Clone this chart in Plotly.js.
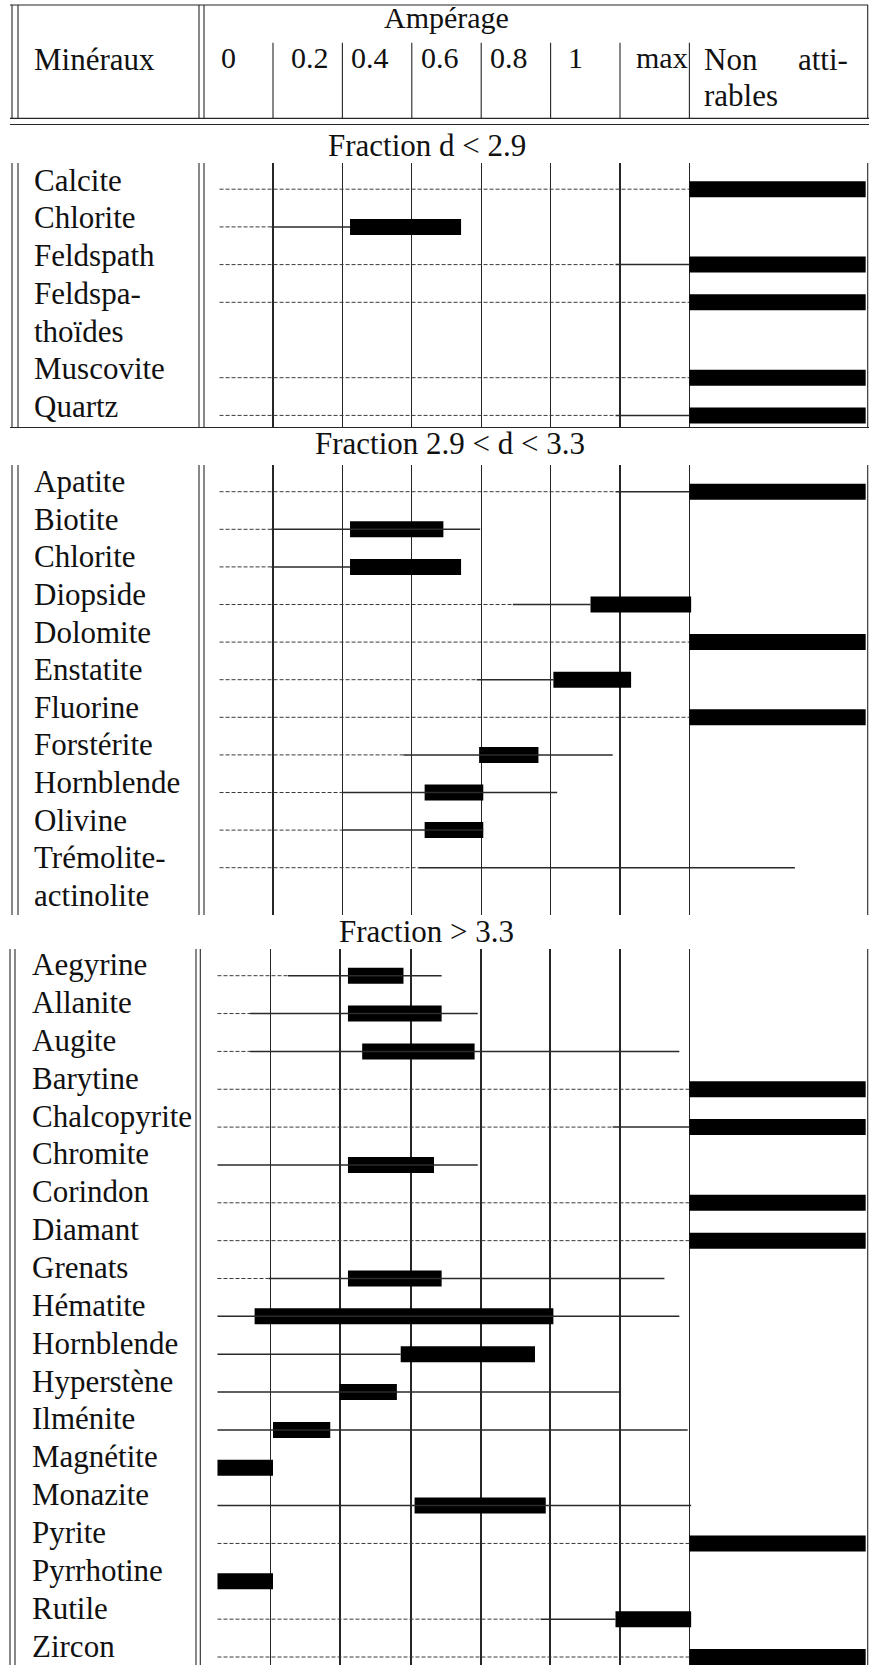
<!DOCTYPE html>
<html>
<head>
<meta charset="utf-8">
<script src="https://cdn.plot.ly/plotly-3.0.1.min.js"></script>
<style>html,body{margin:0;padding:0;background:#fff;}#chart{width:869px;height:1665px;}</style>
</head>
<body>
<div id="chart"></div>
<script>
// ---------------- DATA ----------------
const headerTitle = "Ampérage";
const headerMinerals = "Minéraux";
const colLabels = ["0", "0.2", "0.4", "0.6", "0.8", "1", "max"];
const nonAttr = ["Non", "atti-", "rables"];
const fractionTitles = ["Fraction d < 2.9", "Fraction 2.9 < d < 3.3", "Fraction > 3.3"];

// Section 1 : d < 2.9   (amperage units; dashed = possible, line = observed range, bar = main)
const sec1Names = ["Calcite", "Chlorite", "Feldspath", "Feldspa-", "thoïdes", "Muscovite", "Quartz"];
const sec1DashFrom = [0.046, 0.046, 0.046, 0.046, null, 0.046, 0.046];
const sec1DashTo   = [1.400, 0.195, 1.187, 1.400, null, 1.400, 1.187];
const sec1LineFrom = [null, 0.195, 1.187, null, null, null, 1.187];
const sec1LineTo   = [null, 0.422, 1.400, null, null, null, 1.400];
const sec1BarFrom  = [1.400, 0.422, 1.400, 1.400, null, 1.400, 1.400];
const sec1BarTo    = [1.908, 0.742, 1.908, 1.908, null, 1.908, 1.908];

// Section 2 : 2.9 < d < 3.3
const sec2Names = ["Apatite", "Biotite", "Chlorite", "Diopside", "Dolomite", "Enstatite", "Fluorine", "Forstérite", "Hornblende", "Olivine", "Trémolite-", "actinolite"];
const sec2DashFrom = [0.046, 0.046, 0.046, 0.046, 0.046, 0.046, 0.046, 0.046, 0.046, 0.046, 0.046, null];
const sec2DashTo   = [1.187, 0.195, 0.195, 0.891, 1.400, 0.787, 1.400, 0.576, 0.398, 0.398, 0.619, null];
const sec2LineFrom = [1.187, 0.195, 0.195, 0.891, null, 0.787, null, 0.576, 0.398, 0.398, 0.619, null];
const sec2LineTo   = [1.400, 0.797, 0.422, 1.115, null, 1.008, null, 1.179, 1.019, 0.806, 1.704, null];
const sec2BarFrom  = [1.400, 0.422, 0.422, 1.115, 1.400, 1.008, 1.400, 0.794, 0.637, 0.637, null, null];
const sec2BarTo    = [1.908, 0.691, 0.742, 1.405, 1.908, 1.232, 1.908, 0.965, 0.806, 0.806, null, null];

// Section 3 : d > 3.3
const sec3Names = ["Aegyrine", "Allanite", "Augite", "Barytine", "Chalcopyrite", "Chromite", "Corindon", "Diamant", "Grenats", "Hématite", "Hornblende", "Hyperstène", "Ilménite", "Magnétite", "Monazite", "Pyrite", "Pyrrhotine", "Rutile", "Zircon"];
const sec3DashFrom = [0.040, 0.040, 0.040, 0.040, 0.040, null, 0.040, 0.040, 0.040, null, null, null, null, null, null, 0.040, null, 0.040, 0.040];
const sec3DashTo   = [0.243, 0.134, 0.134, 1.400, 1.179, null, 1.400, 1.400, 0.187, null, null, null, null, null, null, 1.400, null, 0.971, 1.400];
const sec3LineFrom = [0.243, 0.134, 0.134, null, 1.179, 0.040, null, null, 0.187, 0.040, 0.040, 0.040, 0.040, null, 0.040, null, null, 0.971, null];
const sec3LineTo   = [0.686, 0.790, 1.371, null, 1.400, 0.790, null, null, 1.328, 1.371, 0.568, 1.200, 1.395, null, 1.405, null, null, 1.187, null];
const sec3BarFrom  = [0.416, 0.416, 0.457, 1.400, 1.400, 0.416, 1.400, 1.400, 0.416, 0.147, 0.568, 0.392, 0.200, 0.040, 0.608, 1.400, 0.040, 1.187, 1.400];
const sec3BarTo    = [0.576, 0.686, 0.781, 1.908, 1.908, 0.664, 1.908, 1.908, 0.686, 1.008, 0.955, 0.557, 0.365, 0.200, 0.986, 1.908, 0.200, 1.405, 1.908];

// ---------------- LAYOUT HELPERS ----------------
const W = 869, H = 1665;
const X0 = 203.6, SCALE = 347;           // pixel of amperage 0, pixels per amperage unit
const px2u = p => (p - X0) / SCALE;
const LINE = '#262626';
const FONT = 'Liberation Serif, Times New Roman, serif';

const sections = [
  {names: sec1Names, dF: sec1DashFrom, dT: sec1DashTo, lF: sec1LineFrom, lT: sec1LineTo, bF: sec1BarFrom, bT: sec1BarTo,
   top: 163, bot: 427.5, row0: 189.2, rowPx: 37.7, xa: 'x', ya: 'y', lbl: 33, dl: [12, 18, 199, 204], lblShift: -2,
   grid: [273, 342.4, 411.8, 481.2, 550.6, 620, 689.4]},
  {names: sec2Names, dF: sec2DashFrom, dT: sec2DashTo, lF: sec2LineFrom, lT: sec2LineTo, bF: sec2BarFrom, bT: sec2BarTo,
   top: 465, bot: 915, row0: 491.7, rowPx: 37.6, xa: 'x2', ya: 'y2', lbl: 33, dl: [12, 18, 199, 204], lblShift: -1,
   grid: [273, 342.4, 411.8, 481.2, 550.6, 620, 689.4]},
  {names: sec3Names, dF: sec3DashFrom, dT: sec3DashTo, lF: sec3LineFrom, lT: sec3LineTo, bF: sec3BarFrom, bT: sec3BarTo,
   top: 949, bot: 1665, row0: 975.7, rowPx: 37.85, xa: 'x3', ya: 'y3', lbl: 31, dl: [10, 15, 196, 200.3], lblShift: 0,
   grid: [270.5, 340, 411, 481, 550, 620, 689.4]}
];

function segTrace(from, to, xa, ya, dash, width, color) {
  const x = [], y = [];
  from.forEach((f, i) => { if (f == null) return; x.push(f, to[i], null); y.push(i, i, null); });
  return {type: 'scatter', mode: 'lines', x, y, xaxis: xa, yaxis: ya,
          line: {color, width, dash}, hoverinfo: 'skip', showlegend: false};
}
function barTrace(from, to, xa, ya, widthU) {
  const base = [], x = [], y = [];
  from.forEach((f, i) => { if (f == null) return; base.push(f); x.push(to[i] - f); y.push(i); });
  return {type: 'bar', orientation: 'h', base, x, y, xaxis: xa, yaxis: ya, width: widthU,
          marker: {color: '#000', line: {width: 0}}, hoverinfo: 'skip', showlegend: false};
}

const traces = [];
const layout = {
  width: W, height: H, margin: {l: 0, r: 0, t: 0, b: 0},
  paper_bgcolor: '#fff', plot_bgcolor: 'rgba(0,0,0,0)',
  showlegend: false, barmode: 'overlay',
  annotations: [], shapes: []
};

const pv = p => 1 - p / H;   // pixel y -> paper y
const ph = p => p / W;       // pixel x -> paper x
function hline(y, x0, x1) {
  layout.shapes.push({type: 'line', xref: 'paper', yref: 'paper', x0: ph(x0), x1: ph(x1), y0: pv(y), y1: pv(y),
                      line: {color: LINE, width: 1.2}});
}
function vline(x, y0, y1) {
  layout.shapes.push({type: 'line', xref: 'paper', yref: 'paper', x0: ph(x), x1: ph(x), y0: pv(y0), y1: pv(y1),
                      line: {color: LINE, width: 1.1}});
}
function text(str, x, baseline, anchor, size) {
  layout.annotations.push({text: str, xref: 'paper', yref: 'paper', x: ph(x), y: pv(baseline),
    xanchor: anchor, yanchor: 'middle', yshift: size * 0.3375, showarrow: false, borderpad: 0,
    font: {family: FONT, size, color: '#111'}});
}

sections.forEach((s, k) => {
  const sfx = k === 0 ? '' : String(k + 1);
  layout['xaxis' + sfx] = {domain: [X0 / W, 1], range: [0, px2u(W)], anchor: s.ya,
    showticklabels: false, ticks: '', zeroline: false, showline: false, fixedrange: true,
    tickmode: 'array', tickvals: s.grid.map(px2u), showgrid: true, gridcolor: LINE, gridwidth: 1.1};
  layout['yaxis' + sfx] = {domain: [pv(s.bot), pv(s.top)],
    range: [(s.bot - s.row0) / s.rowPx, (s.top - s.row0) / s.rowPx], anchor: s.xa,
    showticklabels: false, ticks: '', zeroline: false, showline: false, showgrid: false, fixedrange: true};
  traces.push(segTrace(s.dF, s.dT, s.xa, s.ya, '4px,2px', 1, '#3a3a3a'));
  traces.push(segTrace(s.lF, s.lT, s.xa, s.ya, 'solid', 1.5, '#2a2a2a'));
  traces.push(barTrace(s.bF, s.bT, s.xa, s.ya, 16 / s.rowPx));
  s.names.forEach((n, i) => {
    layout.annotations.push({text: n, xref: 'paper', yref: s.ya, x: ph(s.lbl), y: i,
      xanchor: 'left', yanchor: 'middle', yshift: 31 * 0.3375 + 0.5 + s.lblShift, showarrow: false, borderpad: 0,
      font: {family: FONT, size: 31, color: '#111'}});
  });
  // frame lines of the section
  s.dl.forEach(x => vline(x, s.top, s.bot));
  vline(867.7, s.top, s.bot);
});

// header frame
hline(5, 10, 868);
hline(118.3, 10, 869);
hline(124.5, 10, 869);
hline(427.5, 10, 869);
[12, 18, 199, 204, 867.7].forEach(x => vline(x, 5, 118.3));
[273, 342.4, 411.8, 481.2, 550.6, 620, 689.4].forEach(x => vline(x, 42.7, 118.3));

// header texts
text(headerMinerals, 33, 69.5, 'left', 31);
text(headerTitle, 446.5, 27.5, 'center', 30);
const colLeft = [220, 290, 350, 420, 489, 567];
colLabels.forEach((c, i) => {
  if (i < colLeft.length) text(c, colLeft[i], 68, 'left', 30);
  else text(c, 689, 68, 'right', 30);
});
text(nonAttr[0], 703, 70, 'left', 31);
text(nonAttr[1], 849, 70, 'right', 31);
text(nonAttr[2], 703, 106, 'left', 31);

// fraction titles
text(fractionTitles[0], 426.5, 155.5, 'center', 31);
text(fractionTitles[1], 450, 454, 'center', 31);
text(fractionTitles[2], 426.5, 942, 'center', 31);

Plotly.newPlot('chart', traces, layout, {staticPlot: true, displayModeBar: false});
</script>
</body>
</html>
